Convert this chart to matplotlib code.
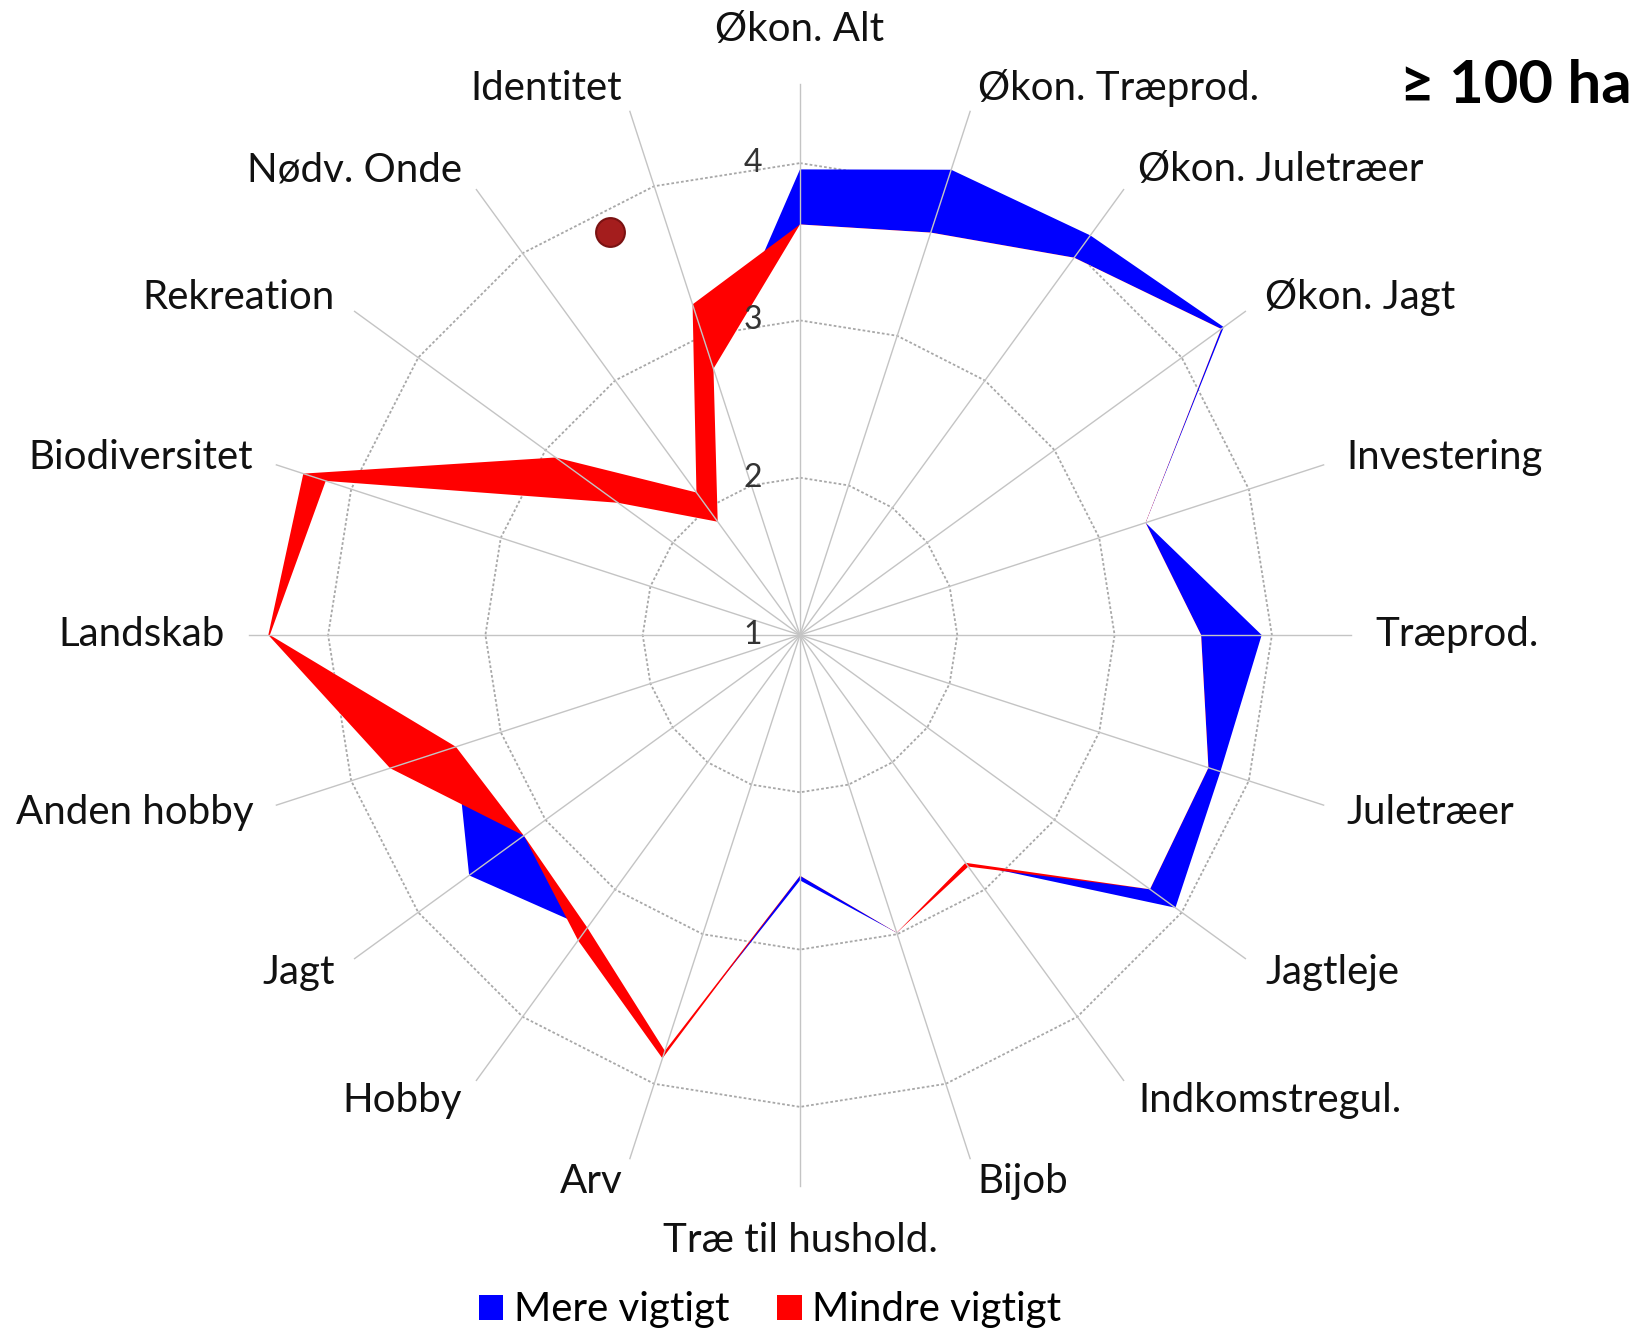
import numpy as np
import matplotlib
matplotlib.use("Agg")
import matplotlib.pyplot as plt
from matplotlib.patches import Patch, Polygon

plt.rcParams['font.family'] = ['Lato', 'DejaVu Sans']

# ---------------- data ----------------
categories = ["Økon. Alt", "Økon. Træprod.", "Økon. Juletræer", "Økon. Jagt",
              "Investering", "Træprod.", "Juletræer", "Jagtleje",
              "Indkomstregul.", "Bijob", "Træ til hushold.", "Arv", "Hobby",
              "Jagt", "Anden hobby", "Landskab", "Biodiversitet", "Rekreation",
              "Nødv. Onde", "Identitet"]
# group value (blue where it exceeds the reference)
group_vals = [3.96, 4.11, 4.14, 4.33, 3.31, 3.935, 3.81, 3.95, 2.79, 2.99,
              2.56, 3.78, 3.30, 3.60, 3.30, 4.37, 4.17, 2.43, 1.89, 2.78]
# reference value (red where it exceeds the group)
ref_vals = [3.61, 3.69, 3.965, 4.31, 3.31, 3.55, 3.73, 3.75, 2.82, 2.99,
            2.53, 3.83, 3.40, 3.17, 3.74, 4.38, 4.32, 2.92, 2.12, 3.21]
tick_values = [1, 2, 3, 4]
ring_values = [2, 3, 4]
axis_min, axis_max = 1, 4.5
legend_labels = ["Mere vigtigt", "Mindre vigtigt"]
title_text = "≥ 100 ha"
marker_pos = 18.6     # fractional category position of the marker
marker_val = 3.83

# ---------------- geometry ----------------
n = len(categories)
def angle(pos):
    return np.pi / 2 - 2 * np.pi * np.asarray(pos, dtype=float) / n

theta = angle(np.arange(n))

def to_xy(vals, th=theta):
    r = np.asarray(vals, dtype=float) - axis_min
    return r * np.cos(th), r * np.sin(th)

W, H = 1639, 1336
unit = 157.3
cx, cy = 800, 635
fig = plt.figure(figsize=(W / 100, H / 100), dpi=100)
ax = fig.add_axes([0, 0, 1, 1])
ax.set_xlim(-cx / unit, (W - cx) / unit)
ax.set_ylim(-(H - cy) / unit, cy / unit)
ax.axis('off')

BLUE, RED = '#0000ff', '#ff0000'

xa, ya = to_xy(group_vals)
ax.fill(xa, ya, color=BLUE, lw=0, zorder=1)
xb, yb = to_xy(ref_vals)
ax.fill(xb, yb, color=RED, lw=0, zorder=2)
xm, ym = to_xy(np.minimum(group_vals, ref_vals))
white_poly = Polygon(np.column_stack([xm, ym]), closed=True, facecolor='white',
                     edgecolor='none', lw=0, zorder=3)
ax.add_patch(white_poly)

# rings: behind the coloured areas, visible in the white interior
for rv in ring_values:
    rx, ry = to_xy([rv] * (n + 1), np.append(theta, theta[0]))
    ax.plot(rx, ry, color='#a8a8a8', lw=1.3, ls=(0, (1.5, 1.2)), zorder=0.5)
    ln, = ax.plot(rx, ry, color='#a8a8a8', lw=1.3, ls=(0, (1.5, 1.2)), zorder=3.5)
    ln.set_clip_path(white_poly)

# spokes on top
for th in theta:
    ex, ey = to_xy([axis_max], np.array([th]))
    ax.plot([0, ex[0]], [0, ey[0]], color='#c4c4c4', lw=1.0, zorder=4)

# tick labels
for tv in tick_values:
    ax.text(-0.24, tv - axis_min, str(tv), ha='right', va='center',
            fontsize=23, color='#333333', zorder=6)

# category labels
for lab, th in zip(categories, theta):
    c, s = np.cos(th), np.sin(th)
    if abs(c) < 1e-3:
        rr = 4.85 - axis_min
        ha = 'center'
    else:
        rr = 4.655 - axis_min
        ha = 'left' if c > 0 else 'right'
    ax.text(rr * c, rr * s, lab, ha=ha, va='center', fontsize=29,
            color='#111111', zorder=6)

# marker dot
mx, my = to_xy([marker_val], angle([marker_pos]))
ax.scatter(mx, my, s=430, color='#a41d1d', edgecolor='#7a1212', lw=1.5, zorder=7)

# title
fig.text(1632 / W, 1 - 86 / H, title_text, ha='right', va='center',
         fontsize=43, fontweight='bold', color='black')

# legend
handles = [Patch(facecolor=BLUE, edgecolor='none'), Patch(facecolor=RED, edgecolor='none')]
fig.legend(handles, legend_labels, loc='center', bbox_to_anchor=(770 / W, 26 / H),
           ncol=2, frameon=False, fontsize=29, handlelength=0.6, handleheight=0.6,
           handletextpad=0.25, columnspacing=1.2, borderpad=0)

fig.savefig('out.png', dpi=100)
